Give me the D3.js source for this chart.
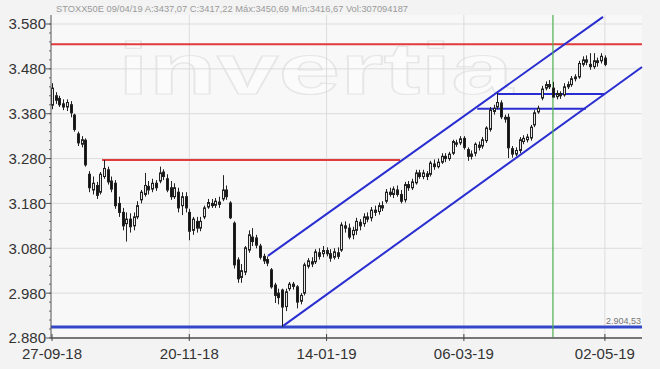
<!DOCTYPE html>
<html><head><meta charset="utf-8">
<script src="https://cdn.jsdelivr.net/npm/d3@7"></script>
<style>
html,body{margin:0;padding:0;background:#f2f2f2;}
svg{display:block;}
</style></head>
<body>
<svg id="c" width="660" height="369"></svg>
<script>
// ---- data (index points, trading-day index 0..149) ----
const open  = [3399,3420,3414,3402,3395,3400,3377,3335,3312,3321,3245,3210,3220,3205,3240,3255,3230,3225,3180,3160,
 3135,3145,3130,3150,3188,3200,3218,3212,3225,3230,3250,3235,3215,3195,3205,3175,3195,3160,3120,3140,
 3125,3150,3172,3180,3176,3183,3190,3210,3181,3136,3054,3015,3027,3076,3105,3103,3085,3062,3055,3032,
 2998,2980,2987,2950,2990,3000,2994,2962,2980,3040,3050,3050,3070,3068,3075,3068,3060,3070,3076,3130,
 3125,3110,3120,3138,3135,3150,3148,3165,3162,3175,3185,3205,3200,3210,3200,3188,3222,3215,3226,3248,
 3240,3246,3245,3268,3262,3272,3285,3280,3292,3315,3315,3325,3300,3285,3292,3310,3308,3320,3345,3385,
 3395,3404,3372,3372,3302,3290,3298,3318,3322,3326,3355,3384,3415,3437,3445,3437,3418,3425,3422,3440,
 3445,3458,3462,3490,3500,3490,3485,3498,3498,3504];
const high  = [3448,3428,3420,3412,3412,3408,3380,3340,3330,3325,3252,3240,3228,3250,3277,3262,3240,3232,3195,3170,
 3160,3158,3160,3185,3210,3248,3230,3235,3232,3262,3256,3245,3230,3225,3215,3205,3205,3168,3150,3150,
 3150,3175,3190,3190,3192,3195,3243,3220,3185,3140,3060,3045,3085,3120,3125,3110,3090,3068,3062,3036,
 3003,2990,2990,2990,3005,3005,2998,2980,3048,3058,3060,3078,3080,3085,3082,3078,3080,3082,3138,3140,
 3135,3128,3148,3145,3158,3160,3172,3175,3182,3185,3212,3215,3218,3220,3210,3228,3230,3235,3255,3255,
 3255,3252,3275,3278,3280,3292,3292,3295,3322,3322,3330,3330,3305,3298,3316,3318,3328,3352,3395,3400,
 3426,3410,3378,3380,3308,3305,3328,3332,3335,3355,3388,3398,3442,3452,3455,3451,3432,3430,3448,3452,
 3464,3468,3498,3508,3510,3515,3515,3505,3515,3510];
const low   = [3390,3402,3395,3388,3386,3372,3340,3308,3305,3262,3205,3200,3190,3200,3235,3222,3205,3168,3150,3120,
 3095,3115,3120,3145,3180,3195,3200,3205,3208,3225,3232,3205,3188,3190,3160,3154,3160,3098,3110,3115,
 3118,3145,3168,3170,3170,3170,3185,3188,3145,3035,3003,3003,3020,3070,3085,3080,3055,3045,3040,2990,
 2958,2955,2905,2940,2985,2988,2946,2955,2975,3035,3038,3045,3055,3060,3062,3050,3055,3056,3072,3115,
 3100,3100,3110,3120,3128,3138,3140,3152,3155,3163,3180,3195,3192,3195,3180,3182,3208,3210,3222,3235,
 3234,3232,3240,3255,3258,3268,3272,3275,3288,3306,3310,3300,3275,3278,3285,3298,3302,3315,3340,3378,
 3390,3368,3360,3281,3282,3285,3292,3312,3316,3320,3350,3380,3410,3432,3435,3417,3412,3413,3418,3435,
 3440,3452,3458,3485,3488,3478,3480,3485,3492,3486];
const close = [3437,3410,3400,3395,3405,3382,3345,3315,3322,3266,3215,3225,3198,3245,3258,3228,3212,3175,3160,3130,
 3145,3128,3150,3175,3205,3220,3210,3225,3215,3248,3240,3210,3195,3215,3170,3195,3170,3118,3145,3125,
 3140,3170,3182,3175,3185,3178,3210,3195,3148,3043,3012,3030,3081,3110,3095,3087,3060,3052,3047,2994,
 2975,2970,2949,2983,3000,2995,2960,2975,3043,3052,3045,3072,3062,3075,3068,3058,3072,3062,3132,3125,
 3105,3120,3140,3130,3150,3145,3165,3160,3175,3170,3205,3200,3212,3200,3185,3222,3215,3228,3248,3240,
 3248,3240,3270,3262,3272,3285,3280,3290,3318,3312,3324,3305,3285,3290,3312,3305,3322,3348,3388,3392,
 3405,3373,3368,3304,3290,3298,3322,3325,3328,3350,3382,3392,3435,3445,3440,3417,3425,3420,3440,3445,
 3458,3462,3492,3500,3495,3485,3498,3494,3508,3490];

const tickLabels = ["27-09-18","20-11-18","14-01-19","06-03-19","02-05-19"];
const tickIndex  = [0, 37, 74, 111, 149];
const yTicks     = [2880,2980,3080,3180,3280,3380,3480,3580];

// drawn studies: [index1, value1, index2, value2]
const redLevels   = [[-0.3, 3535, 159, 3535], [13.5, 3277, 93.8, 3277]];
const blueLevels  = [[-0.3, 2904.53, 159, 2904.53]];
const channelLines= [[58.2, 3063, 148.5, 3596], [62.3, 2907, 159, 3484]];
const boxLines    = [[120, 3424, 148.8, 3424], [114.6, 3391, 143.9, 3391]];
const markerIndex = 135;
const header = "STOXX50E 09/04/19 A:3437,07 C:3417,22 Máx:3450,69 Mín:3416,67 Vol:307094187";
const supportLabel = "2.904,53";

// ---- layout ----
const svg = d3.select("#c");
const L = 51, R = 642, T = 15, B = 338;
const x = d3.scaleLinear().domain([0, 159]).range([52, 642]);
const y = d3.scaleLinear().domain([2880, 3580]).range([338, 24]);
const fmt = d3.formatLocale({decimal:",", thousands:".", grouping:[3], currency:["","€"]}).format(",d");

svg.append("rect").attr("x",0).attr("y",0).attr("width",660).attr("height",369).attr("fill","#f3f3f3");
svg.append("rect").attr("x",L).attr("y",T).attr("width",R-L).attr("height",B-T).attr("fill","#f8f8f8");

// watermark
svg.append("text").attr("x",118).attr("y",94).attr("textLength",395).attr("lengthAdjust","spacingAndGlyphs")
  .attr("font-family","Liberation Sans, Arial, sans-serif").attr("font-weight","bold")
  .attr("font-size",72).attr("fill","#fbfbfb").attr("stroke","#e6e6e6").attr("stroke-width",1.2)
  .text("invertia");

// grid
svg.append("g").selectAll("line").data(yTicks).join("line")
  .attr("x1",L).attr("x2",R).attr("y1",d=>y(d)).attr("y2",d=>y(d))
  .attr("stroke","#dcdcdc").attr("stroke-width",1);
svg.append("g").selectAll("line").data(tickIndex.slice(1)).join("line")
  .attr("x1",d=>x(d)).attr("x2",d=>x(d)).attr("y1",T).attr("y2",B)
  .attr("stroke","#dcdcdc").attr("stroke-width",1);

// header
svg.append("text").attr("x",56).attr("y",12).attr("font-family","Liberation Sans, Arial, sans-serif")
  .attr("font-size",8.6).attr("fill","#9a9a9a").attr("textLength",352).attr("lengthAdjust","spacingAndGlyphs")
  .text(header);

// lines helper
function seg(g, arr, color, w){
  g.selectAll(null).data(arr).join("line")
   .attr("x1",d=>x(d[0])).attr("y1",d=>y(d[1])).attr("x2",d=>x(d[2])).attr("y2",d=>y(d[3]))
   .attr("stroke",color).attr("stroke-width",w);
}
const gl = svg.append("g");
seg(gl, redLevels, "#e23b3b", 2);
seg(gl, channelLines, "#2a2ed0", 2);
seg(gl, boxLines, "#2a2ed0", 2);
seg(gl, blueLevels, "#3348c8", 3);
gl.append("line").attr("x1",x(markerIndex)).attr("x2",x(markerIndex)).attr("y1",T).attr("y2",B)
  .attr("stroke","#4caf50").attr("stroke-width",1.2);

svg.append("text").attr("x",641).attr("y",324).attr("text-anchor","end")
  .attr("font-family","Liberation Sans, Arial, sans-serif").attr("font-size",9).attr("fill","#777")
  .text(supportLabel);

// candles
const idx = d3.range(open.length);
const gc = svg.append("g");
gc.selectAll("line").data(idx).join("line")
  .attr("x1",i=>Math.round(x(i))+0.5).attr("x2",i=>Math.round(x(i))+0.5)
  .attr("y1",i=>y(high[i])).attr("y2",i=>y(low[i]))
  .attr("stroke","#222").attr("stroke-width",1);
gc.selectAll("rect").data(idx).join("rect")
  .attr("x",i=>Math.round(x(i))-0.5).attr("width",2)
  .attr("y",i=>y(Math.max(open[i],close[i])))
  .attr("height",i=>Math.max(1, Math.abs(y(open[i])-y(close[i]))))
  .attr("fill",i=>close[i]>=open[i] ? "#e8e8e8" : "#111")
  .attr("stroke","#222").attr("stroke-width",1);

// axes
svg.append("line").attr("x1",L).attr("x2",R).attr("y1",B).attr("y2",B).attr("stroke","#777").attr("stroke-width",2);
svg.append("line").attr("x1",L).attr("x2",L).attr("y1",T).attr("y2",B).attr("stroke","#555").attr("stroke-width",1);
// minor y ticks
const minor = d3.range(2880, 3600, 20);
svg.append("g").selectAll("line").data(minor).join("line")
  .attr("x1",L-2).attr("x2",L).attr("y1",d=>y(d)).attr("y2",d=>y(d)).attr("stroke","#666");
svg.append("g").selectAll("line").data(yTicks).join("line")
  .attr("x1",L-5).attr("x2",L).attr("y1",d=>y(d)).attr("y2",d=>y(d)).attr("stroke","#555");
svg.append("g").selectAll("text").data(yTicks).join("text")
  .attr("x",46).attr("y",d=>y(d)).attr("dy","0.36em").attr("text-anchor","end")
  .attr("font-family","Liberation Sans, Arial, sans-serif").attr("font-size",15).attr("fill","#333")
  .text(d=>fmt(d));
// x ticks
svg.append("g").selectAll("line").data(tickIndex).join("line")
  .attr("x1",d=>x(d)).attr("x2",d=>x(d)).attr("y1",B-4).attr("y2",B+3).attr("stroke","#444");
svg.append("g").selectAll("text").data(tickIndex).join("text")
  .attr("x",d=>x(d)).attr("y",359).attr("text-anchor","middle")
  .attr("font-family","Liberation Sans, Arial, sans-serif").attr("font-size",15).attr("fill","#333")
  .text((d,i)=>tickLabels[i]);
</script>
</body></html>
